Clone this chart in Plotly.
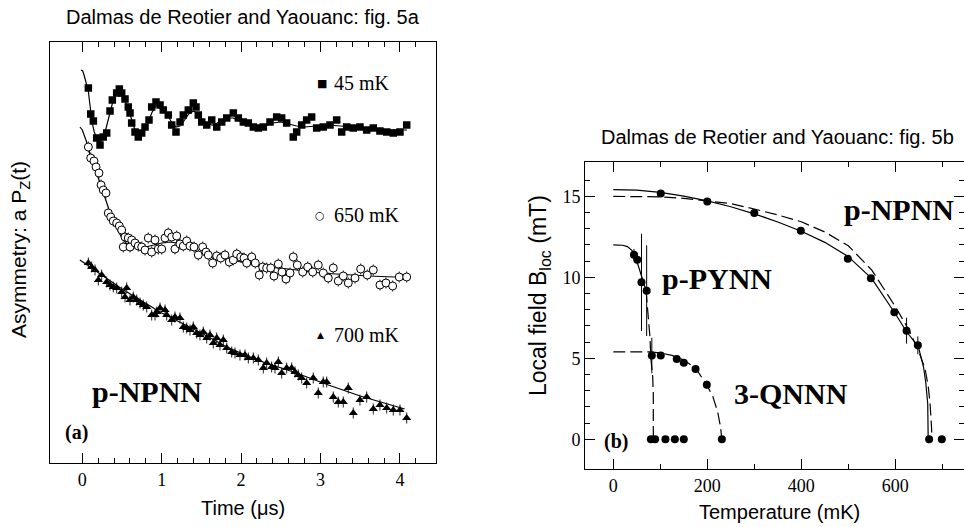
import plotly.graph_objects as go

# ---------------- Panel (a): muSR asymmetry of p-NPNN (arbitrary vertical offsets) ----------------
t45 = [0.076, 0.106, 0.139, 0.181, 0.223, 0.264, 0.307, 0.349, 0.378, 0.433, 0.466, 0.496, 0.538, 0.579,
       0.601, 0.622, 0.664, 0.705, 0.748, 0.790, 0.840, 0.874, 0.928, 0.979, 1.020, 1.083, 1.126, 1.180,
       1.231, 1.272, 1.335, 1.398, 1.432, 1.461, 1.504, 1.567, 1.630, 1.693, 1.756, 1.819, 1.902, 1.965,
       2.028, 2.091, 2.154, 2.217, 2.280, 2.364, 2.448, 2.511, 2.574, 2.657, 2.700, 2.763, 2.826, 2.889,
       2.952, 3.035, 3.120, 3.204, 3.267, 3.330, 3.413, 3.497, 3.582, 3.665, 3.749, 3.834, 3.917, 4.001, 4.086]
a45 = [3.75, 3.49, 3.42, 3.25, 3.18, 3.26, 3.30, 3.52, 3.63, 3.70, 3.74, 3.70, 3.64, 3.56,
       3.50, 3.40, 3.31, 3.26, 3.30, 3.36, 3.43, 3.56, 3.61, 3.58, 3.53, 3.48, 3.38, 3.31,
       3.41, 3.48, 3.53, 3.60, 3.56, 3.48, 3.41, 3.38, 3.43, 3.36, 3.41, 3.45, 3.50, 3.45,
       3.41, 3.40, 3.36, 3.35, 3.36, 3.41, 3.46, 3.45, 3.40, 3.26, 3.31, 3.38, 3.43, 3.46,
       3.35, 3.36, 3.38, 3.43, 3.31, 3.36, 3.35, 3.36, 3.33, 3.35, 3.32, 3.31, 3.30, 3.31, 3.38]

fit45_t = [-0.016, 0.005, 0.022, 0.04, 0.06, 0.076, 0.09, 0.106, 0.125, 0.15, 0.18, 0.21, 0.24, 0.27,
           0.30, 0.34, 0.38, 0.42, 0.46, 0.50, 0.54, 0.58, 0.62, 0.66, 0.70, 0.74, 0.78, 0.83, 0.88,
           0.93, 0.98, 1.03, 1.08, 1.13, 1.18, 1.23, 1.28, 1.34, 1.40, 1.46, 1.52, 1.58, 1.64, 1.70,
           1.76, 1.82, 1.90, 1.98, 2.06, 2.14, 2.22, 2.30, 2.40, 2.50, 2.60, 2.70, 2.80, 2.95, 3.10,
           3.25, 3.40, 3.60, 3.80, 4.00, 4.09]
fit45_a = [3.93, 3.92, 3.88, 3.82, 3.77, 3.72, 3.62, 3.50, 3.40, 3.31, 3.25, 3.21, 3.22, 3.27,
           3.35, 3.48, 3.60, 3.67, 3.70, 3.68, 3.62, 3.54, 3.43, 3.34, 3.28, 3.27, 3.32, 3.41, 3.51,
           3.57, 3.58, 3.54, 3.47, 3.40, 3.36, 3.37, 3.42, 3.49, 3.52, 3.49, 3.43, 3.39, 3.38, 3.40,
           3.43, 3.45, 3.45, 3.42, 3.39, 3.37, 3.36, 3.37, 3.40, 3.41, 3.39, 3.37, 3.36, 3.37, 3.38,
           3.37, 3.36, 3.34, 3.33, 3.33, 3.33]

t650 = [0.076, 0.106, 0.147, 0.173, 0.210, 0.236, 0.264, 0.298, 0.327, 0.358, 0.390, 0.433, 0.466, 0.496,
        0.538, 0.579, 0.622, 0.516, 0.601, 0.664, 0.705, 0.748, 0.790, 0.831, 0.874, 0.916, 0.957, 1.000,
        1.042, 1.083, 1.126, 1.167, 1.189, 1.230, 1.272, 1.315, 1.356, 1.407, 1.461, 1.516, 1.558, 1.587,
        1.642, 1.693, 1.743, 1.797, 1.851, 1.902, 1.945, 1.995, 2.037, 2.071, 2.134, 2.179, 2.229, 2.272,
        2.322, 2.373, 2.414, 2.469, 2.515, 2.566, 2.616, 2.657, 2.708, 2.776, 2.839, 2.902, 2.972, 3.035,
        3.098, 3.161, 3.224, 3.287, 3.350, 3.435, 3.506, 3.589, 3.665, 3.749, 3.825, 3.909, 3.992, 4.086]
a650 = [3.16, 3.05, 3.02, 2.96, 2.90, 2.78, 2.73, 2.70, 2.50, 2.46, 2.42, 2.40, 2.37, 2.33,
        2.26, 2.25, 2.23, 2.16, 2.16, 2.20, 2.17, 2.16, 2.13, 2.25, 2.11, 2.23, 2.14, 2.14,
        2.25, 2.30, 2.26, 2.14, 2.27, 2.19, 2.17, 2.22, 2.17, 2.16, 2.08, 2.16, 2.11, 2.08,
        2.00, 2.07, 2.05, 2.08, 2.01, 2.03, 2.09, 2.06, 2.05, 2.00, 2.06, 2.00, 1.88, 1.96,
        1.95, 1.95, 1.87, 1.99, 1.91, 1.84, 1.90, 2.06, 1.98, 1.91, 1.96, 1.91, 1.98, 1.90,
        1.85, 1.95, 1.82, 1.87, 1.80, 1.85, 1.94, 1.88, 1.93, 1.78, 1.80, 1.77, 1.86, 1.86]
err650 = 0.055

fit650_t = [-0.03, 0.0, 0.05, 0.10, 0.15, 0.20, 0.25, 0.30, 0.35, 0.40, 0.45, 0.50, 0.55, 0.60, 0.70,
            0.80, 0.90, 1.00, 1.10, 1.20, 1.30, 1.40, 1.50, 1.60, 1.70, 1.80, 2.00, 2.20, 2.60, 3.00,
            3.60, 4.10]
fit650_a = [3.36, 3.33, 3.22, 3.08, 2.97, 2.86, 2.74, 2.62, 2.50, 2.40, 2.32, 2.25, 2.20, 2.17, 2.15,
            2.16, 2.18, 2.20, 2.21, 2.20, 2.17, 2.13, 2.10, 2.07, 2.05, 2.04, 2.01, 1.97, 1.94, 1.90,
            1.87, 1.855]

t700 = [0.076, 0.118, 0.160, 0.202, 0.244, 0.307, 0.349, 0.390, 0.433, 0.496, 0.538, 0.559, 0.601, 0.642,
        0.685, 0.727, 0.768, 0.811, 0.874, 0.916, 0.937, 0.979, 1.042, 1.063, 1.126, 1.167, 1.230, 1.272,
        1.315, 1.356, 1.398, 1.441, 1.482, 1.524, 1.567, 1.608, 1.650, 1.693, 1.734, 1.776, 1.819, 1.882,
        1.923, 1.986, 2.049, 2.091, 2.154, 2.217, 2.280, 2.322, 2.385, 2.427, 2.469, 2.511, 2.574, 2.637,
        2.679, 2.720, 2.763, 2.826, 2.909, 2.972, 3.035, 3.078, 3.161, 3.224, 3.287, 3.350, 3.413, 3.497,
        3.582, 3.665, 3.749, 3.834, 3.917, 4.001, 4.086]
a700 = [2.00, 1.96, 1.93, 1.83, 1.88, 1.81, 1.78, 1.76, 1.75, 1.71, 1.66, 1.75, 1.63, 1.66,
        1.63, 1.60, 1.58, 1.56, 1.48, 1.48, 1.51, 1.55, 1.53, 1.48, 1.43, 1.46, 1.45, 1.36,
        1.35, 1.33, 1.36, 1.30, 1.28, 1.31, 1.25, 1.28, 1.20, 1.25, 1.18, 1.23, 1.15, 1.11,
        1.10, 1.08, 1.08, 1.05, 1.05, 1.03, 0.95, 1.00, 0.96, 0.95, 1.01, 0.90, 0.95, 0.95,
        0.91, 0.88, 0.85, 0.80, 0.85, 0.70, 0.81, 0.81, 0.66, 0.61, 0.61, 0.75, 0.50, 0.63,
        0.66, 0.54, 0.58, 0.55, 0.53, 0.53, 0.45]
err700 = 0.055

fit700_t = [-0.03, 0.5, 1.0, 1.5, 1.82, 2.2, 2.66, 3.1, 3.5, 4.06]
fit700_a = [2.03, 1.74, 1.50, 1.30, 1.16, 1.03, 0.91, 0.78, 0.67, 0.54]

# ---------------- Panel (b): local field vs temperature ----------------
npnn_T = [101, 200, 300, 399, 499, 548, 598, 624, 648, 672, 699]
npnn_B = [15.17, 14.69, 13.98, 12.88, 11.15, 9.94, 7.84, 6.71, 5.80, 0, 0]
npnn_err = [0, 0, 0, 0, 0, 0, 0, 0.8, 0.55, 0, 0]

pynn_T = [44, 51, 60, 71, 82, 80, 89, 111, 131, 150]
pynn_B = [11.40, 11.09, 9.69, 9.18, 5.17, 0, 0, 0, 0, 0]
pynn_err = [0.35, 0.3, 3.0, 2.8, 1.1, 0, 0, 0, 0, 0]

qnnn_T = [101, 135, 150, 175, 199, 231]
qnnn_B = [5.17, 4.96, 4.72, 4.34, 3.37, 0]
qnnn_err = [0, 0, 0, 0, 0.25, 0]

npnn_fit_T = [0, 50, 100, 150, 200, 250, 300, 350, 400, 450, 500, 550, 600, 624, 649, 660, 665, 669, 670]
npnn_fit_B = [15.42, 15.38, 15.24, 15.02, 14.72, 14.36, 13.92, 13.42, 12.85, 12.16, 11.28, 9.92, 7.75,
              6.64, 5.72, 4.48, 3.46, 2.2, 0]
npnn_mf_T = [0, 100, 150, 200, 250, 300, 350, 400, 450, 500, 550, 600, 630, 650, 663, 670, 674, 677, 678]
npnn_mf_B = [15.0, 14.97, 14.88, 14.72, 14.55, 14.22, 13.85, 13.43, 12.8, 11.95, 10.45, 8.2, 6.7, 5.4,
             4.4, 3.3, 2.2, 0.8, 0]

pynn_fit_T = [0, 20, 30, 40, 48, 55, 62, 69.6]
pynn_fit_B = [12.0, 11.98, 11.9, 11.65, 11.2, 10.6, 9.9, 9.2]
pynn_ext_T = [69.6, 74, 78, 80.2, 83.8, 85.1, 85.1]
pynn_ext_B = [9.2, 7.9, 6.33, 4.9, 3.87, 2.84, 0]

qnnn_fit_T = [0, 80, 100, 125, 150, 175, 200, 212, 222, 228, 231]
qnnn_fit_B = [5.4, 5.4, 5.33, 5.18, 4.9, 4.4, 3.3, 2.62, 1.7, 0.8, 0]

W, H = 964, 527
SERIF = "Liberation Serif"
SANS = "Liberation Sans"
BLACK = "black"

fig = go.Figure()

def line(x, y, xa, ya, dash="solid"):
    fig.add_trace(go.Scatter(x=x, y=y, mode="lines", xaxis=xa, yaxis=ya,
                             line=dict(color=BLACK, width=1.2, dash=dash), hoverinfo="skip"))

# panel (a)
line(fit45_t, fit45_a, "x", "y")
line(fit650_t, fit650_a, "x", "y")
line(fit700_t, fit700_a, "x", "y")
fig.add_trace(go.Scatter(x=t45, y=a45, mode="markers", xaxis="x", yaxis="y",
                         marker=dict(symbol="square", size=7.5, color=BLACK, line=dict(width=0))))
fig.add_trace(go.Scatter(x=t650, y=a650, mode="markers", xaxis="x", yaxis="y",
                         error_y=dict(type="constant", value=err650, color="#222", thickness=1, width=0),
                         marker=dict(symbol="circle", size=8, color="white", line=dict(color=BLACK, width=1))))
fig.add_trace(go.Scatter(x=t700, y=a700, mode="markers", xaxis="x", yaxis="y",
                         error_y=dict(type="constant", value=err700, color="#222", thickness=1, width=0),
                         marker=dict(symbol="triangle-up", size=8, color=BLACK, line=dict(width=0))))

# panel (b)
line(npnn_fit_T, npnn_fit_B, "x2", "y2")
line(npnn_mf_T, npnn_mf_B, "x2", "y2", dash="12px,5px")
line(pynn_fit_T, pynn_fit_B, "x2", "y2")
line(pynn_ext_T, pynn_ext_B, "x2", "y2", dash="12px,5px")
line(qnnn_fit_T, qnnn_fit_B, "x2", "y2", dash="12px,5px")
for T, B, E in [(npnn_T, npnn_B, npnn_err), (pynn_T, pynn_B, pynn_err), (qnnn_T, qnnn_B, qnnn_err)]:
    fig.add_trace(go.Scatter(x=T, y=B, mode="markers", xaxis="x2", yaxis="y2",
                             error_y=dict(type="data", array=E, color=BLACK, thickness=1, width=0),
                             marker=dict(symbol="circle", size=8, color=BLACK)))

def px_x(p):
    return p / W

def px_y(p):
    return 1 - p / H

axcommon = dict(showgrid=False, zeroline=False, showline=True, linecolor=BLACK, linewidth=1,
                mirror="ticks", ticks="inside", tickcolor=BLACK, tickwidth=1, ticklen=10,
                tickfont=dict(family=SERIF, size=18, color=BLACK))

fig.update_layout(
    width=W, height=H, margin=dict(l=0, r=0, t=0, b=0),
    paper_bgcolor="white", plot_bgcolor="white", showlegend=False,
    xaxis=dict(axcommon, domain=[px_x(50), px_x(436)], range=[-0.407, 4.455], anchor="y",
               tickmode="array", tickvals=[0, 1, 2, 3, 4],
               minor=dict(tickmode="array", tickvals=[0.2, 0.4, 0.6, 0.8, 1.2, 1.4, 1.6, 1.8, 2.2, 2.4, 2.6,
                                                     2.8, 3.2, 3.4, 3.6, 3.8, 4.2],
                          ticks="inside", ticklen=5, tickcolor=BLACK)),
    yaxis=dict(showgrid=False, zeroline=False, showline=True, linecolor=BLACK, linewidth=1, mirror=True,
               ticks="", showticklabels=False, domain=[px_y(463), px_y(42)], range=[0, 4.21], anchor="x"),
    xaxis2=dict(axcommon, domain=[px_x(585), 1.0], range=[-60.2, 746.2], anchor="y2",
                tickmode="array", tickvals=[0, 200, 400, 600],
                minor=dict(tickmode="array", tickvals=[100, 300, 500, 700], ticks="inside", ticklen=5,
                           tickcolor=BLACK)),
    yaxis2=dict(axcommon, domain=[px_y(469), px_y(161.7)], range=[-1.833, 17.14], anchor="x2",
                tickmode="array", tickvals=[0, 5, 10, 15],
                minor=dict(tickmode="array", tickvals=[1, 2, 3, 4, 6, 7, 8, 9, 11, 12, 13, 14, 16],
                           ticks="inside", ticklen=5, tickcolor=BLACK)),
)

ann = []
def text(x, y, s, size, family=SANS, xref="paper", yref="paper", xanchor="center", yanchor="middle", angle=0):
    ann.append(dict(x=x, y=y, xref=xref, yref=yref, text=s, showarrow=False, xanchor=xanchor,
                    yanchor=yanchor, textangle=angle, font=dict(family=family, size=size, color=BLACK)))

# titles
text(px_x(243), px_y(17), "Dalmas de Reotier and Yaouanc: fig. 5a", 20)
text(px_x(777), px_y(136.7), "Dalmas de Reotier and Yaouanc: fig. 5b", 20)
text(px_x(243), px_y(508), "Time (\u03bcs)", 20)
text(px_x(779), px_y(512), "Temperature (mK)", 20)
text(px_x(20), px_y(250), "Asymmetry: a P<sub>Z</sub>(t)", 21, angle=-90)
text(px_x(539), px_y(296), "Local field B<sub>loc</sub> (mT)", 23, angle=-90)

# panel (a) labels
text(3.015, 3.80, "\u25a0", 11, family="DejaVu Sans", xref="x", yref="y")
text(3.14, 3.80, "45 mK", 20, family=SERIF, xref="x", yref="y", xanchor="left")
text(3.0, 2.48, "\u25cb", 11, family="DejaVu Sans", xref="x", yref="y")
text(3.14, 2.48, "650 mK", 20, family=SERIF, xref="x", yref="y", xanchor="left")
text(3.0, 1.28, "\u25b2", 9, family="DejaVu Sans", xref="x", yref="y")
text(3.14, 1.28, "700 mK", 20, family=SERIF, xref="x", yref="y", xanchor="left")
text(0.097, 0.713, "<b>p-NPNN</b>", 30, family=SERIF, xref="x", yref="y", xanchor="left")
text(-0.243, 0.303, "<b>(a)</b>", 20, family=SERIF, xref="x", yref="y", xanchor="left")

# panel (b) labels
text(486, 14.2, "<b>p-NPNN</b>", 30, family=SERIF, xref="x2", yref="y2", xanchor="left")
text(99.4, 9.94, "<b>p-PYNN</b>", 30, family=SERIF, xref="x2", yref="y2", xanchor="left")
text(252, 2.84, "<b>3-QNNN</b>", 30, family=SERIF, xref="x2", yref="y2", xanchor="left")
text(-24.7, -0.15, "<b>(b)</b>", 20, family=SERIF, xref="x2", yref="y2", xanchor="left")

fig.update_layout(annotations=ann)
fig.write_html("out.html")
